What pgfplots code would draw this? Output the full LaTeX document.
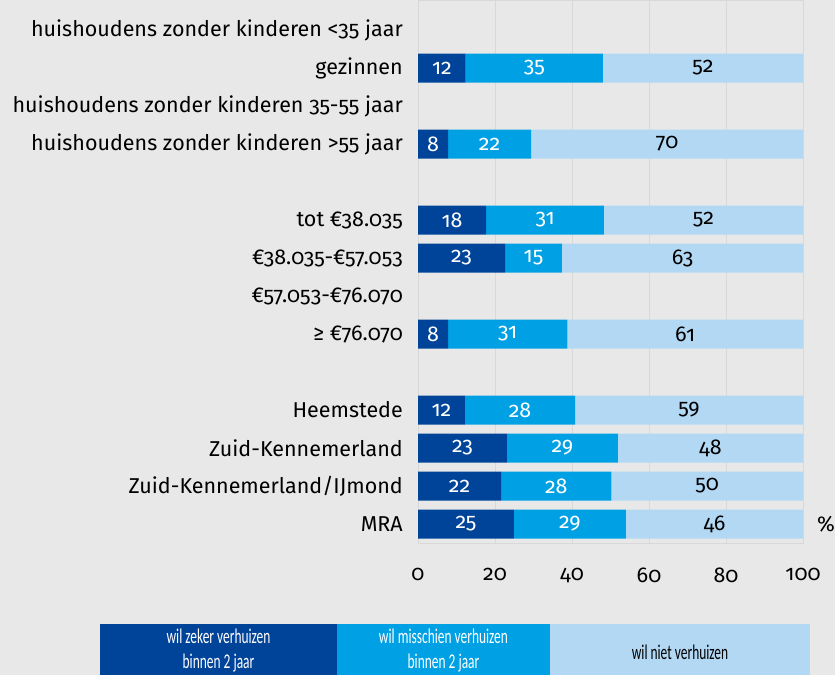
\documentclass[border=0pt]{standalone}
\usepackage{pgfplots}
\pgfplotsset{compat=1.18}
\usepackage{pgfplotstable}
\usepackage{fontspec}
\setmainfont{Fira Sans}[Numbers=OldStyle]
\newfontfamily\legfont{Carlito}[FakeStretch=0.64]
\definecolor{bg}{HTML}{E8E8E8}
\definecolor{c1}{HTML}{00449A}
\definecolor{c2}{HTML}{00A0E4}
\definecolor{c3}{HTML}{B2D8F4}
\definecolor{gridc}{HTML}{D8D8D8}
\pgfplotstableread{
y a b c la lb lc
1 12.4 35.6 52.0 12 35 52
3 7.8 21.6 70.6 8 22 70
5 17.7 30.6 51.7 18 31 52
6 22.6 14.8 62.6 23 15 63
8 7.8 31.0 61.2 8 31 61
10 12.2 28.6 59.2 12 28 59
11 23.1 28.8 48.1 23 29 48
12 21.6 28.6 49.8 22 28 50
13 24.9 29.1 46.0 25 29 46
}\data
\newcommand\mainsize{\fontsize{21.5bp}{24bp}\selectfont}
\begin{document}
\begin{tikzpicture}[x=1bp,y=1bp]
\fill[bg] (0,0) rectangle (835,-675);
\useasboundingbox (0,0) rectangle (835,-675);
\pgfplotsset{
  common/.style={
    at={(418bp,-543bp)}, anchor=south west,
    scale only axis, width=385bp, height=543bp,
    xmin=0, xmax=100, y dir=reverse, ymin=-0.79, ymax=13.5,
  }
}
\begin{axis}[common,
  xbar stacked, bar width=29bp, bar shift=0pt,
  axis line style={gridc},
  xmajorgrids, grid style={gridc, line width=0.8pt},
  xtick={0,20,40,60,80,100},
  ytick={0,1,2,3,5,6,7,8,10,11,12,13},
  yticklabels={huishoudens zonder kinderen <35 jaar, gezinnen, huishoudens zonder kinderen 35-55 jaar, huishoudens zonder kinderen >55 jaar, tot €38.035, €38.035-€57.053, €57.053-€76.070, ≥ €76.070, Heemstede, Zuid-Kennemerland, Zuid-Kennemerland/IJmond, MRA},
  major tick length=0pt,
  /pgf/number format/assume math mode=true,
  tick label style={font=\mainsize, text=black},
  yticklabel style={inner sep=0pt, xshift=-15bp},
  xticklabel style={inner sep=0pt, yshift=-25bp},
]
\addplot[fill=c1, draw=none] table[x=a, y=y] \data;
\addplot[fill=c2, draw=none] table[x=b, y=y] \data;
\addplot[fill=c3, draw=none] table[x=c, y=y] \data;
\end{axis}
\begin{axis}[common, axis lines=none, ticks=none,
  nodes near coords, point meta=explicit symbolic,
  every node near coord/.append style={anchor=center, inner sep=0pt, font=\mainsize},
]
\addplot[draw=none, mark=none, every node near coord/.append style={text=white}] table[x expr=\thisrow{a}/2, y=y, meta=la] \data;
\addplot[draw=none, mark=none, every node near coord/.append style={text=white}] table[x expr=\thisrow{a}+\thisrow{b}/2, y=y, meta=lb] \data;
\addplot[draw=none, mark=none, every node near coord/.append style={text=black}] table[x expr=(\thisrow{a}+\thisrow{b}+100)/2, y=y, meta=lc] \data;
\end{axis}
\node[font=\mainsize] at (826,-524) {\%};
\fill[c1] (100,-624) rectangle (337,-675);
\fill[c2] (337,-624) rectangle (550,-675);
\fill[c3] (550,-624) rectangle (810,-675);
\node[text=white, align=center, font=\legfont\fontsize{21bp}{25bp}\selectfont] at (218.5,-651) {wil zeker verhuizen\\binnen 2 jaar};
\node[text=white, align=center, font=\legfont\fontsize{21bp}{25bp}\selectfont] at (443.5,-651) {wil misschien verhuizen\\binnen 2 jaar};
\node[text=black, align=center, font=\legfont\fontsize{21bp}{25bp}\selectfont] at (680,-652) {wil niet verhuizen};
\end{tikzpicture}
\end{document}
